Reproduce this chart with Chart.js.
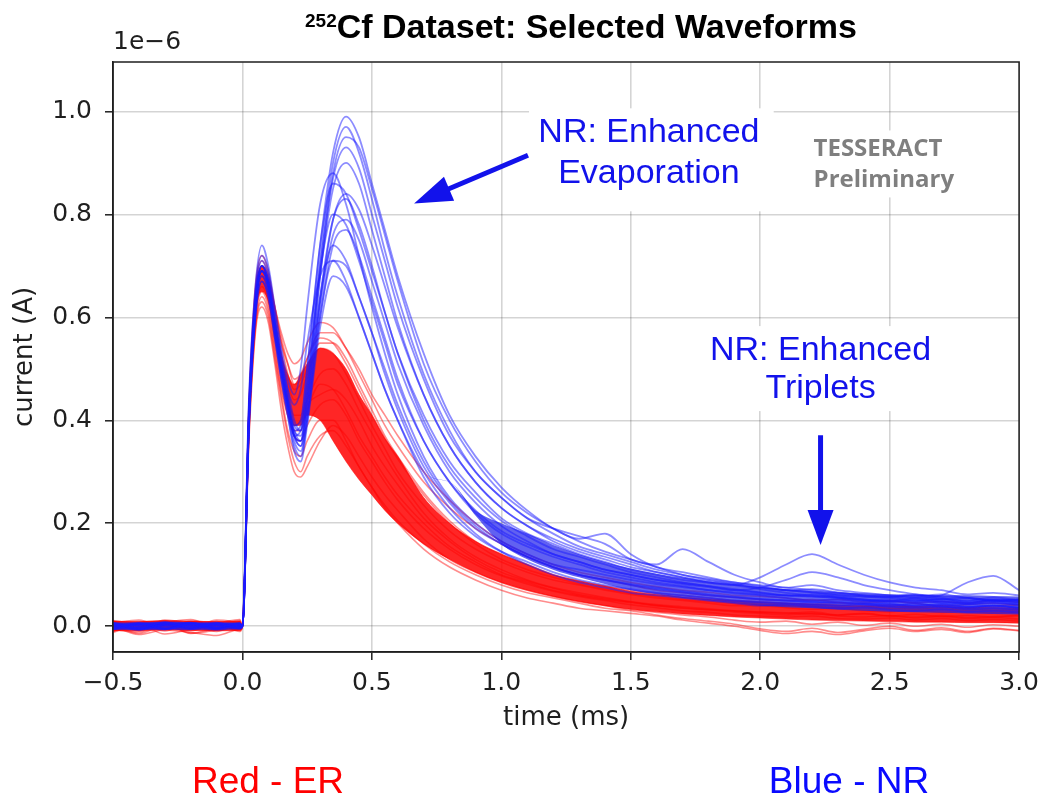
<!DOCTYPE html>
<html lang="en">
<head>
    <meta charset="UTF-8">
    <title>252Cf Dataset: Selected Waveforms</title>
    <script src="https://cdn.jsdelivr.net/npm/chart.js"></script>
    <style>
        body { margin: 0; background: #fff; }
        .wrap { position: relative; width: 1047px; height: 798px; }
        #title { position: absolute; left: 581px; top: 9px; transform: translateX(-50%);
                 font: bold 34px 'Liberation Sans', Arial, sans-serif; line-height: 34px; white-space: nowrap; color: #000; }
        #title .iso { font-size: 19px; position: relative; top: -11px; }
        .group { position: absolute; top: 762px; transform: translateX(-50%);
                 font: 37px 'Liberation Sans', Arial, sans-serif; line-height: 37px; white-space: nowrap; }
        #er { left: 268px; color: #ff0000; }
        #nr { left: 849px; color: #0a0aff; }
    </style>
</head>
<body>
<div class="wrap">
    <canvas id="chartCanvas" width="1047" height="798"></canvas>
    <div id="title"><span class="iso">252</span>Cf Dataset: Selected Waveforms</div>
    <div class="group" id="er">Red - ER</div>
    <div class="group" id="nr">Blue - NR</div>
</div>
<script>
    // time axis (ms) shared by every trace
    const times = [-0.5, -0.4, -0.3, -0.2, -0.1, -0.01,
        0, 0.025, 0.05, 0.075, 0.1, 0.125, 0.15, 0.175, 0.2, 0.225, 0.25,
        0.3, 0.35, 0.4, 0.45, 0.5, 0.55, 0.6,
        0.7, 0.8, 0.9, 1.0, 1.1, 1.2, 1.3, 1.4, 1.5, 1.6, 1.7, 1.8, 1.9, 2.0,
        2.1, 2.2, 2.3, 2.4, 2.5, 2.6, 2.7, 2.8, 2.9, 3.0];

    const xTicks = [-0.5, 0, 0.5, 1.0, 1.5, 2.0, 2.5, 3.0];
    const yTicks = [0, 0.2, 0.4, 0.6, 0.8, 1.0];

    // NR waveforms (blue), current in units of 1e-6 A
    const nr1 = [0.005, -0.004, 0.008, -0.002, 0.006, 0.003,
        0, 0.41, 0.63, 0.70, 0.67, 0.59, 0.51, 0.44, 0.39, 0.40, 0.50,
        0.74, 0.92, 0.99, 0.95, 0.86, 0.77, 0.68,
        0.53, 0.41, 0.33, 0.27, 0.225, 0.19, 0.17, 0.18, 0.14, 0.115, 0.105, 0.095, 0.085, 0.08, 0.075, 0.07, 0.065, 0.06, 0.058, 0.062, 0.055, 0.05, 0.056, 0.05];
    const nr2 = [-0.003, 0.006, -0.005, 0.004, -0.006, 0.002,
        0, 0.40, 0.62, 0.69, 0.66, 0.58, 0.50, 0.43, 0.37, 0.38, 0.47,
        0.71, 0.90, 0.97, 0.92, 0.83, 0.73, 0.64,
        0.49, 0.38, 0.30, 0.25, 0.21, 0.18, 0.155, 0.14, 0.125, 0.11, 0.1, 0.09, 0.082, 0.075, 0.07, 0.072, 0.066, 0.06, 0.058, 0.055, 0.06, 0.085, 0.098, 0.07];
    const nr3 = [0.002, -0.007, 0.004, 0.007, -0.002, 0.005,
        0, 0.42, 0.64, 0.71, 0.68, 0.60, 0.52, 0.45, 0.39, 0.38, 0.46,
        0.70, 0.87, 0.93, 0.89, 0.80, 0.71, 0.62,
        0.48, 0.37, 0.30, 0.25, 0.21, 0.19, 0.175, 0.16, 0.13, 0.12, 0.15, 0.125, 0.10, 0.085, 0.075, 0.08, 0.07, 0.065, 0.06, 0.058, 0.062, 0.055, 0.05, 0.052];
    const nr4 = [-0.006, 0.003, 0.006, -0.004, 0.004, -0.002,
        0, 0.39, 0.61, 0.68, 0.65, 0.57, 0.49, 0.42, 0.37, 0.36, 0.44,
        0.68, 0.85, 0.90, 0.86, 0.77, 0.68, 0.59,
        0.45, 0.35, 0.28, 0.23, 0.195, 0.17, 0.15, 0.135, 0.12, 0.105, 0.095, 0.085, 0.08, 0.072, 0.065, 0.06, 0.058, 0.052, 0.05, 0.048, 0.052, 0.045, 0.05, 0.047];
    const nr5 = [0.006, -0.002, -0.006, 0.005, 0.002, -0.004,
        0, 0.41, 0.63, 0.70, 0.67, 0.59, 0.51, 0.44, 0.38, 0.39, 0.50,
        0.74, 0.86, 0.84, 0.77, 0.69, 0.61, 0.53,
        0.41, 0.32, 0.26, 0.21, 0.18, 0.16, 0.14, 0.125, 0.11, 0.1, 0.09, 0.085, 0.08, 0.095, 0.12, 0.14, 0.12, 0.1, 0.085, 0.075, 0.07, 0.062, 0.065, 0.06];
    const nr6 = [0.001, 0.007, -0.003, -0.006, 0.005, 0.004,
        0, 0.40, 0.62, 0.69, 0.66, 0.58, 0.50, 0.43, 0.37, 0.35, 0.42,
        0.64, 0.79, 0.83, 0.78, 0.70, 0.61, 0.53,
        0.40, 0.31, 0.25, 0.205, 0.175, 0.15, 0.135, 0.12, 0.105, 0.095, 0.085, 0.078, 0.07, 0.065, 0.06, 0.062, 0.056, 0.05, 0.048, 0.052, 0.045, 0.043, 0.047, 0.042];
    const nr7 = [-0.004, 0.004, 0.006, 0.001, -0.005, 0.006,
        0, 0.43, 0.65, 0.72, 0.69, 0.61, 0.53, 0.46, 0.40, 0.38, 0.47,
        0.69, 0.80, 0.78, 0.71, 0.63, 0.55, 0.47,
        0.36, 0.28, 0.225, 0.185, 0.16, 0.14, 0.125, 0.11, 0.1, 0.09, 0.082, 0.076, 0.07, 0.075, 0.09, 0.105, 0.095, 0.08, 0.07, 0.062, 0.058, 0.055, 0.05, 0.052];
    const nr8 = [0.003, -0.005, 0.002, 0.006, -0.003, 0.001,
        0, 0.38, 0.60, 0.67, 0.64, 0.56, 0.48, 0.41, 0.35, 0.33, 0.40,
        0.60, 0.74, 0.77, 0.72, 0.64, 0.56, 0.48,
        0.36, 0.28, 0.22, 0.18, 0.155, 0.135, 0.12, 0.105, 0.095, 0.085, 0.078, 0.07, 0.064, 0.06, 0.055, 0.05, 0.052, 0.046, 0.044, 0.04, 0.043, 0.038, 0.04, 0.036];
    const nr9 = [-0.002, 0.005, -0.006, 0.003, 0.007, -0.003,
        0, 0.40, 0.62, 0.69, 0.66, 0.58, 0.50, 0.43, 0.37, 0.36, 0.44,
        0.64, 0.74, 0.71, 0.64, 0.57, 0.49, 0.42,
        0.31, 0.24, 0.19, 0.16, 0.135, 0.115, 0.1, 0.09, 0.08, 0.072, 0.066, 0.06, 0.056, 0.052, 0.05, 0.046, 0.048, 0.042, 0.04, 0.044, 0.038, 0.036, 0.04, 0.035];
    const nr10 = [0.004, 0.002, 0.005, -0.005, 0.001, 0.004,
        0, 0.41, 0.63, 0.70, 0.67, 0.59, 0.52, 0.46, 0.43, 0.46, 0.55,
        0.68, 0.71, 0.67, 0.60, 0.53, 0.46, 0.40,
        0.29, 0.22, 0.175, 0.145, 0.125, 0.105, 0.09, 0.08, 0.072, 0.065, 0.06, 0.055, 0.05, 0.047, 0.045, 0.042, 0.04, 0.043, 0.038, 0.036, 0.038, 0.033, 0.035, 0.032];
    const nr11 = [-0.005, -0.002, 0.004, 0.005, -0.004, 0.0,
        0, 0.39, 0.60, 0.67, 0.64, 0.56, 0.48, 0.41, 0.34, 0.32, 0.39,
        0.58, 0.68, 0.66, 0.60, 0.53, 0.46, 0.40,
        0.30, 0.23, 0.18, 0.145, 0.12, 0.10, 0.085, 0.075, 0.065, 0.06, 0.055, 0.05, 0.045, 0.04, 0.042, 0.038, 0.035, 0.036, 0.032, 0.03, 0.033, 0.028, 0.03, 0.027];
    const nr12 = [0.007, -0.004, 0.002, -0.001, 0.004, -0.004,
        0, 0.44, 0.66, 0.74, 0.70, 0.62, 0.54, 0.48, 0.45, 0.50, 0.62,
        0.82, 0.88, 0.82, 0.72, 0.62, 0.53, 0.45,
        0.33, 0.25, 0.20, 0.165, 0.14, 0.12, 0.11, 0.10, 0.09, 0.082, 0.076, 0.07, 0.066, 0.062, 0.06, 0.058, 0.055, 0.052, 0.05, 0.055, 0.048, 0.046, 0.05, 0.045];
    const nr13 = [0.004, 0.001, -0.005, 0.006, -0.003, 0.003,
        0, 0.40, 0.62, 0.69, 0.66, 0.58, 0.50, 0.43, 0.38, 0.37, 0.44,
        0.68, 0.88, 0.95, 0.93, 0.85, 0.76, 0.67,
        0.51, 0.40, 0.32, 0.26, 0.22, 0.19, 0.165, 0.145, 0.13, 0.115, 0.1, 0.092, 0.085, 0.078, 0.07, 0.066, 0.062, 0.058, 0.056, 0.06, 0.052, 0.055, 0.05, 0.048];
    const nr14 = [-0.006, 0.005, 0.001, -0.003, 0.006, -0.001,
        0, 0.41, 0.63, 0.70, 0.67, 0.59, 0.51, 0.44, 0.38, 0.36, 0.42,
        0.63, 0.79, 0.84, 0.81, 0.74, 0.66, 0.58,
        0.45, 0.35, 0.28, 0.23, 0.195, 0.165, 0.145, 0.13, 0.115, 0.105, 0.095, 0.088, 0.082, 0.076, 0.07, 0.066, 0.06, 0.057, 0.055, 0.05, 0.053, 0.048, 0.052, 0.05];
    const nr15 = [0.002, -0.006, 0.007, 0.002, -0.004, 0.005,
        0, 0.40, 0.62, 0.69, 0.66, 0.58, 0.50, 0.43, 0.37, 0.35, 0.41,
        0.62, 0.76, 0.79, 0.75, 0.67, 0.59, 0.51,
        0.39, 0.30, 0.24, 0.195, 0.165, 0.14, 0.125, 0.11, 0.1, 0.09, 0.084, 0.078, 0.072, 0.066, 0.06, 0.058, 0.055, 0.05, 0.048, 0.046, 0.048, 0.043, 0.045, 0.042];
    const nr16 = [-0.001, 0.004, -0.004, 0.006, 0.002, -0.005,
        0, 0.39, 0.61, 0.68, 0.65, 0.57, 0.49, 0.42, 0.36, 0.34, 0.40,
        0.60, 0.71, 0.70, 0.64, 0.57, 0.50, 0.43,
        0.32, 0.245, 0.195, 0.16, 0.135, 0.115, 0.1, 0.09, 0.082, 0.075, 0.068, 0.062, 0.057, 0.053, 0.05, 0.048, 0.045, 0.044, 0.042, 0.04, 0.041, 0.038, 0.04, 0.037];

    // dense part of the NR population (baseline and late tail)
    const nrCoreLow = [-0.007, -0.008, -0.006, -0.007, -0.008, -0.006,
        0, 0.38, 0.60, 0.67, 0.64, 0.56, 0.48, 0.41, 0.35, 0.33, 0.40,
        0.60, 0.74, 0.77, 0.72, 0.64, 0.56, 0.48,
        0.30, 0.28, 0.215, 0.16, 0.13, 0.11, 0.095, 0.082, 0.07, 0.062, 0.055, 0.05, 0.045, 0.04, 0.037, 0.035, 0.032, 0.03, 0.028, 0.027, 0.026, 0.025, 0.024, 0.023];
    const nrCoreHigh = [0.008, 0.007, 0.009, 0.008, 0.007, 0.008,
        0, 0.38, 0.60, 0.67, 0.64, 0.56, 0.48, 0.41, 0.35, 0.33, 0.40,
        0.60, 0.74, 0.77, 0.72, 0.64, 0.56, 0.48,
        0.30, 0.28, 0.225, 0.20, 0.18, 0.158, 0.14, 0.125, 0.112, 0.102, 0.094, 0.087, 0.081, 0.076, 0.072, 0.069, 0.066, 0.064, 0.062, 0.061, 0.06, 0.06, 0.059, 0.058];

    // ER waveforms (red)
    const er1 = [0.01, -0.008, 0.012, 0.004, -0.01, 0.006,
        0, 0.40, 0.62, 0.69, 0.67, 0.62, 0.57, 0.53, 0.51, 0.52, 0.55,
        0.59, 0.58, 0.54, 0.49, 0.44, 0.39, 0.35,
        0.28, 0.23, 0.19, 0.16, 0.135, 0.115, 0.1, 0.09, 0.08, 0.07, 0.065, 0.06, 0.056, 0.052, 0.05, 0.052, 0.046, 0.045, 0.048, 0.044, 0.04, 0.042, 0.045, 0.04];
    const er2 = [-0.012, 0.003, -0.015, -0.006, 0.002, -0.008,
        0, 0.38, 0.58, 0.63, 0.60, 0.52, 0.44, 0.37, 0.32, 0.30, 0.33,
        0.37, 0.38, 0.35, 0.31, 0.27, 0.235, 0.205,
        0.16, 0.125, 0.1, 0.08, 0.065, 0.055, 0.045, 0.035, 0.03, 0.022, 0.015, 0.01, 0.004, -0.005, -0.01, -0.004, -0.012, -0.006, 0.0, -0.008, -0.003, -0.01, -0.004, -0.008];
    const er3 = [0.006, 0.012, -0.004, 0.009, 0.003, 0.011,
        0, 0.42, 0.65, 0.71, 0.68, 0.61, 0.53, 0.47, 0.44, 0.45, 0.49,
        0.54, 0.53, 0.49, 0.44, 0.39, 0.345, 0.30,
        0.235, 0.185, 0.15, 0.125, 0.105, 0.09, 0.08, 0.07, 0.062, 0.055, 0.05, 0.045, 0.04, 0.04, 0.036, 0.033, 0.035, 0.03, 0.028, 0.032, 0.027, 0.03, 0.026, 0.028];
    const er4 = [-0.007, -0.011, 0.005, -0.013, -0.004, 0.001,
        0, 0.39, 0.60, 0.66, 0.63, 0.55, 0.47, 0.41, 0.37, 0.36, 0.39,
        0.43, 0.44, 0.41, 0.36, 0.32, 0.28, 0.245,
        0.19, 0.15, 0.12, 0.098, 0.082, 0.068, 0.058, 0.05, 0.042, 0.036, 0.03, 0.027, 0.022, 0.02, 0.018, 0.02, 0.015, 0.014, 0.016, 0.012, 0.015, 0.011, 0.013, 0.01];
    const er5 = [0.002, 0.008, 0.01, -0.005, 0.012, 0.004,
        0, 0.41, 0.64, 0.70, 0.68, 0.62, 0.56, 0.51, 0.47, 0.48, 0.52,
        0.57, 0.57, 0.54, 0.50, 0.45, 0.41, 0.37,
        0.30, 0.245, 0.20, 0.165, 0.14, 0.12, 0.105, 0.095, 0.085, 0.077, 0.07, 0.066, 0.06, 0.058, 0.055, 0.05, 0.052, 0.048, 0.05, 0.046, 0.048, 0.045, 0.05, 0.047];
    const er6 = [-0.003, 0.004, -0.009, 0.007, -0.006, -0.002,
        0, 0.40, 0.62, 0.68, 0.65, 0.58, 0.50, 0.44, 0.41, 0.41, 0.44,
        0.49, 0.50, 0.47, 0.42, 0.375, 0.33, 0.29,
        0.22, 0.17, 0.135, 0.11, 0.09, 0.075, 0.065, 0.056, 0.048, 0.042, 0.038, 0.034, 0.03, 0.028, 0.026, 0.024, 0.022, 0.025, 0.02, 0.018, 0.021, 0.017, 0.019, 0.02];
    const er7 = [0.004, -0.014, 0.0, -0.009, 0.006, -0.01,
        0, 0.37, 0.58, 0.64, 0.61, 0.53, 0.45, 0.38, 0.34, 0.33, 0.36,
        0.40, 0.40, 0.36, 0.31, 0.27, 0.23, 0.20,
        0.15, 0.115, 0.09, 0.07, 0.055, 0.045, 0.035, 0.03, 0.025, 0.02, 0.012, 0.006, 0.0, -0.008, -0.014, -0.01, -0.016, -0.009, -0.004, -0.01, -0.006, -0.012, -0.005, -0.009];
    const er8 = [0.009, 0.0, 0.007, 0.013, -0.003, 0.008,
        0, 0.43, 0.66, 0.72, 0.69, 0.62, 0.55, 0.49, 0.46, 0.47, 0.50,
        0.55, 0.55, 0.52, 0.47, 0.42, 0.37, 0.33,
        0.26, 0.205, 0.165, 0.14, 0.12, 0.1, 0.088, 0.078, 0.07, 0.064, 0.06, 0.055, 0.05, 0.048, 0.045, 0.043, 0.046, 0.04, 0.042, 0.038, 0.04, 0.036, 0.039, 0.042];
    const er9 = [-0.01, 0.006, 0.003, -0.004, 0.009, -0.006,
        0, 0.39, 0.61, 0.67, 0.64, 0.56, 0.48, 0.42, 0.38, 0.38, 0.42,
        0.47, 0.46, 0.42, 0.37, 0.33, 0.29, 0.255,
        0.20, 0.155, 0.125, 0.1, 0.085, 0.07, 0.06, 0.052, 0.046, 0.04, 0.035, 0.032, 0.03, 0.027, 0.025, 0.028, 0.022, 0.024, 0.02, 0.023, 0.019, 0.021, 0.018, 0.022];
    const er10 = [0.0, -0.016, -0.007, -0.012, -0.018, -0.005,
        0, 0.36, 0.57, 0.62, 0.59, 0.51, 0.42, 0.35, 0.30, 0.29, 0.31,
        0.36, 0.39, 0.37, 0.33, 0.29, 0.255, 0.225,
        0.17, 0.13, 0.105, 0.085, 0.07, 0.058, 0.048, 0.04, 0.032, 0.027, 0.022, 0.018, 0.012, 0.008, 0.01, 0.004, 0.008, 0.002, 0.006, 0.0, 0.004, -0.002, 0.003, 0.0];
    const er11 = [0.011, 0.004, -0.006, 0.01, 0.007, 0.013,
        0, 0.41, 0.63, 0.69, 0.67, 0.61, 0.55, 0.51, 0.48, 0.49, 0.52,
        0.56, 0.55, 0.51, 0.46, 0.41, 0.365, 0.325,
        0.255, 0.2, 0.16, 0.13, 0.11, 0.095, 0.082, 0.072, 0.064, 0.058, 0.052, 0.048, 0.044, 0.042, 0.04, 0.038, 0.036, 0.038, 0.034, 0.036, 0.032, 0.034, 0.03, 0.033];
    const er12 = [-0.009, -0.002, 0.004, -0.014, -0.007, 0.003,
        0, 0.38, 0.59, 0.65, 0.62, 0.54, 0.46, 0.41, 0.39, 0.40, 0.43,
        0.45, 0.46, 0.44, 0.40, 0.35, 0.31, 0.275,
        0.21, 0.165, 0.13, 0.105, 0.088, 0.074, 0.062, 0.054, 0.047, 0.04, 0.036, 0.032, 0.028, 0.025, 0.022, 0.025, 0.02, 0.018, 0.021, 0.016, 0.019, 0.015, 0.017, 0.014];

    // dense middle of the ER population (solid red band)
    const erCoreLow = [-0.008, -0.009, -0.007, -0.008, -0.009, -0.008,
        0, 0.39, 0.60, 0.65, 0.63, 0.56, 0.49, 0.43, 0.39, 0.39, 0.41,
        0.40, 0.36, 0.32, 0.285, 0.255, 0.225, 0.20,
        0.16, 0.13, 0.105, 0.085, 0.07, 0.058, 0.048, 0.04, 0.033, 0.028, 0.024, 0.021, 0.018, 0.016, 0.014, 0.012, 0.011, 0.01, 0.009, 0.008, 0.008, 0.007, 0.007, 0.006];
    const erCoreHigh = [0.01, 0.009, 0.011, 0.01, 0.009, 0.01,
        0, 0.42, 0.64, 0.70, 0.67, 0.60, 0.53, 0.49, 0.47, 0.49, 0.51,
        0.54, 0.53, 0.50, 0.45, 0.41, 0.365, 0.33,
        0.25, 0.20, 0.165, 0.14, 0.12, 0.10, 0.088, 0.078, 0.068, 0.062, 0.057, 0.053, 0.05, 0.047, 0.045, 0.043, 0.042, 0.04, 0.04, 0.039, 0.038, 0.037, 0.037, 0.036];

    const nrTraces = [nr1, nr2, nr3, nr4, nr5, nr6, nr7, nr8, nr9, nr10, nr11, nr12, nr13, nr14, nr15, nr16];
    const erTraces = [er1, er2, er3, er4, er5, er6, er7, er8, er9, er10, er11, er12];

    // annotation layout, in data coordinates (time ms, current 1e-6 A)
    const blueInk = 'rgb(18, 18, 235)';
    const whiteBoxes = [
        [1.107, 2.052, 1.006, 0.806],
        [1.762, 2.707, 0.583, 0.418],
        [2.179, 2.773, 0.963, 0.833]
    ];
    const notes = [
        { text: 'NR: Enhanced', x: 1.570, y: 0.959, font: '34px "Liberation Sans", Arial', color: blueInk, align: 'center' },
        { text: 'Evaporation', x: 1.570, y: 0.880, font: '34px "Liberation Sans", Arial', color: blueInk, align: 'center' },
        { text: 'NR: Enhanced', x: 2.233, y: 0.536, font: '34px "Liberation Sans", Arial', color: blueInk, align: 'center' },
        { text: 'Triplets', x: 2.233, y: 0.462, font: '34px "Liberation Sans", Arial', color: blueInk, align: 'center' },
        { text: 'TESSERACT', x: 2.206, y: 0.926, font: 'bold 24px "Open Sans", sans-serif', color: '#7f7f7f', align: 'left' },
        { text: 'Preliminary', x: 2.206, y: 0.866, font: 'bold 24px "Open Sans", sans-serif', color: '#7f7f7f', align: 'left' }
    ];
    const arrows = [
        { from: [1.103, 0.915], to: [0.663, 0.821], head: 38, half: 13 },
        { from: [2.233, 0.371], to: [2.233, 0.158], head: 35, half: 13 }
    ];

    function drawArrow(ctx, x1, y1, x2, y2, head, half) {
        const len = Math.hypot(x2 - x1, y2 - y1);
        const ux = (x2 - x1) / len, uy = (y2 - y1) / len;
        const bx = x2 - ux * head, by = y2 - uy * head;
        ctx.strokeStyle = blueInk;
        ctx.fillStyle = blueInk;
        ctx.lineWidth = 5;
        ctx.beginPath();
        ctx.moveTo(x1, y1);
        ctx.lineTo(bx + ux * 2, by + uy * 2);
        ctx.stroke();
        ctx.beginPath();
        ctx.moveTo(x2, y2);
        ctx.lineTo(bx - uy * half, by + ux * half);
        ctx.lineTo(bx + uy * half, by - ux * half);
        ctx.closePath();
        ctx.fill();
    }

    const annotate = {
        id: 'annotate',
        beforeDatasetsDraw(chart) {
            const { ctx, scales: { x, y } } = chart;
            ctx.save();
            ctx.fillStyle = '#fff';
            whiteBoxes.forEach(([x0, x1, y0, y1]) => {
                const px = x.getPixelForValue(x0), py = y.getPixelForValue(y0);
                ctx.fillRect(px, py, x.getPixelForValue(x1) - px, y.getPixelForValue(y1) - py);
            });
            ctx.restore();
        },
        afterDatasetsDraw(chart) {
            const { ctx, scales: { x, y } } = chart;
            ctx.save();
            arrows.forEach(a => drawArrow(ctx,
                x.getPixelForValue(a.from[0]), y.getPixelForValue(a.from[1]),
                x.getPixelForValue(a.to[0]), y.getPixelForValue(a.to[1]), a.head, a.half));
            ctx.textBaseline = 'middle';
            notes.forEach(n => {
                ctx.font = n.font;
                ctx.fillStyle = n.color;
                ctx.textAlign = n.align;
                ctx.fillText(n.text, x.getPixelForValue(n.x), y.getPixelForValue(n.y));
            });
            ctx.restore();
        },
        afterDraw(chart) {
            const { ctx, chartArea: a } = chart;
            ctx.save();
            ctx.strokeStyle = '#1f1f1f';
            ctx.lineWidth = 1.5;
            ctx.strokeRect(a.left, a.top, a.right - a.left, a.bottom - a.top);
            // scale offset text, matplotlib style
            ctx.fillStyle = '#1f1f1f';
            ctx.font = '25px "DejaVu Sans"';
            ctx.textAlign = 'left';
            ctx.textBaseline = 'middle';
            ctx.fillText('1e\u22126', a.left, a.top - 20);
            ctx.restore();
        }
    };

    const toPoints = vals => times.map((t, i) => ({ x: t, y: vals[i] }));
    const fmt = v => v.toFixed(1).replace('-', '\u2212');
    const tickFont = { family: 'DejaVu Sans', size: 25 };

    // first dataset is drawn on top: blue traces, blue band, red traces, red band
    const datasets = [];
    nrTraces.forEach(v => datasets.push({
        data: toPoints(v), borderColor: 'rgba(25, 25, 255, 0.5)', borderWidth: 1.8, fill: false
    }));
    datasets.push({ data: toPoints(nrCoreLow), borderWidth: 0, fill: false });
    datasets.push({ data: toPoints(nrCoreHigh), borderWidth: 0,
        fill: '-1', backgroundColor: 'rgba(30, 30, 235, 0.7)' });
    erTraces.forEach(v => datasets.push({
        data: toPoints(v), borderColor: 'rgba(255, 0, 0, 0.45)', borderWidth: 1.6, fill: false
    }));
    datasets.push({ data: toPoints(erCoreLow), borderColor: 'rgba(255, 0, 0, 0.5)', borderWidth: 1, fill: false });
    datasets.push({ data: toPoints(erCoreHigh), borderColor: 'rgba(255, 0, 0, 0.5)', borderWidth: 1,
        fill: '-1', backgroundColor: 'rgba(255, 0, 0, 0.85)' });

    const ctx = document.getElementById('chartCanvas').getContext('2d');
    new Chart(ctx, {
        type: 'line',
        data: { datasets },
        options: {
            responsive: false,
            animation: false,
            layout: { padding: { top: 62, right: 26, bottom: 56, left: 0 } },
            elements: {
                point: { radius: 0 },
                line: { cubicInterpolationMode: 'monotone' }
            },
            plugins: {
                legend: { display: false },
                tooltip: { enabled: false }
            },
            scales: {
                x: {
                    type: 'linear',
                    min: -0.5,
                    max: 3.0,
                    afterBuildTicks: s => { s.ticks = xTicks.map(v => ({ value: v })); },
                    afterFit: s => { s.height = 90; },
                    ticks: { font: tickFont, color: '#1f1f1f', padding: 8, maxRotation: 0, callback: fmt },
                    grid: { color: 'rgba(0, 0, 0, 0.17)', lineWidth: 1.6, tickColor: '#1f1f1f', tickLength: 8, tickWidth: 1.5 },
                    border: { display: true, color: '#1f1f1f', width: 1.5 },
                    title: { display: true, text: 'time (ms)', color: '#1f1f1f',
                        font: { family: 'DejaVu Sans', size: 26 }, padding: { top: 4, bottom: 8 } }
                },
                y: {
                    type: 'linear',
                    min: -0.05,
                    max: 1.096,
                    afterBuildTicks: s => { s.ticks = yTicks.map(v => ({ value: v })); },
                    afterFit: s => { s.width = 113; },
                    ticks: { font: tickFont, color: '#1f1f1f', padding: 13, callback: fmt },
                    grid: { color: 'rgba(0, 0, 0, 0.17)', lineWidth: 1.6, tickColor: '#1f1f1f', tickLength: 8, tickWidth: 1.5 },
                    border: { display: true, color: '#1f1f1f', width: 1.5 },
                    title: { display: true, text: 'current (A)', color: '#1f1f1f',
                        font: { family: 'DejaVu Sans', size: 26 }, padding: { top: 10, bottom: 4 } }
                }
            }
        },
        plugins: [annotate]
    });
</script>
</body>
</html>
